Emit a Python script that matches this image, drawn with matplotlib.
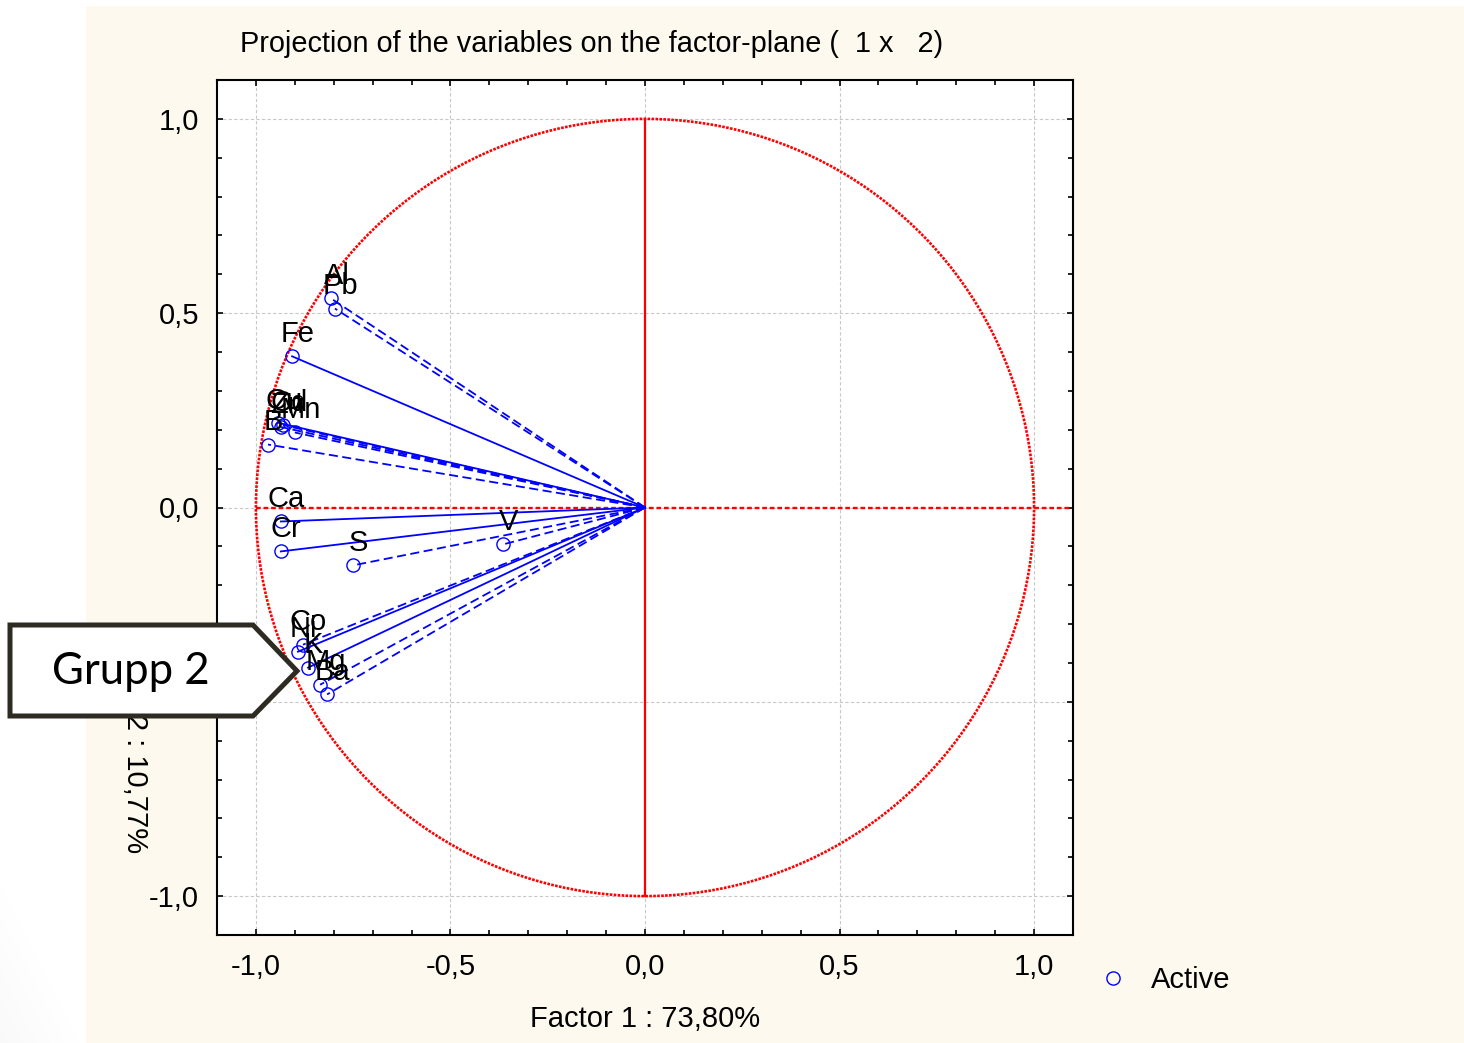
import numpy as np
import matplotlib
matplotlib.use("Agg")
import matplotlib.pyplot as plt
from matplotlib.patches import Polygon, Rectangle
from matplotlib.ticker import MultipleLocator, FuncFormatter

plt.rcParams['font.family'] = ['Liberation Sans', 'DejaVu Sans']

# factor loadings of the variables on factors 1 and 2
names = ["Al", "Pb", "Fe", "Cu", "Zn", "Cd", "Mn", "B", "Ca", "Cr", "S", "V",
         "Ni", "Co", "K", "Mg", "Ba"]
factor1 = [-0.807, -0.797, -0.907, -0.943, -0.935, -0.930, -0.900, -0.969, -0.936, -0.936,
           -0.751, -0.365, -0.892, -0.879, -0.866, -0.835, -0.817]
factor2 = [0.538, 0.512, 0.389, 0.218, 0.207, 0.212, 0.193, 0.162, -0.036, -0.113,
           -0.149, -0.095, -0.371, -0.353, -0.412, -0.456, -0.481]
dashed = [True, True, False, False, True, True, True, True, False, False,
          True, True, False, True, False, True, True]

W, H = 1464, 1043
FS = 21
fig = plt.figure(figsize=(W / 100, H / 100), dpi=100, facecolor="white")

# cream page behind the chart
fig.patches.append(Rectangle((86 / W, 0), 1 - 86 / W, 1 - 6 / H, transform=fig.transFigure,
                             facecolor="#fdf9ee", edgecolor="none", zorder=-10))

# faint grey shading in the lower left corner of the page
shade = fig.add_axes([0, 0, 86 / W, 170 / H], zorder=-9)
gx, gy = np.meshgrid(np.linspace(0, 1, 60), np.linspace(0, 1, 100))
shade.imshow(np.clip(gx + gy, 0, 1), cmap="Greys_r", vmin=-20, vmax=1, origin="lower",
             aspect="auto", extent=(0, 1, 0, 1))
shade.set_axis_off()

ax = fig.add_axes([217 / W, 108 / H, 856 / W, 855 / H])
ax.set_facecolor("white")
ax.set_xlim(-1.1, 1.1)
ax.set_ylim(-1.1, 1.1)

# unit circle and axes through the origin
t = np.linspace(0, 2 * np.pi, 400)
ax.plot(np.cos(t), np.sin(t), color="red", lw=1.9, ls=(0, (1, 0.5)), zorder=2)
ax.plot([-1, 1.1], [0, 0], color="red", lw=1.7, ls=(0, (2, 1.2)), zorder=2)
ax.plot([0, 0], [-1, 1], color="red", lw=1.6, zorder=2)

for x, y, d in zip(factor1, factor2, dashed):
    ax.plot([0, x], [0, y], color="blue", lw=1.3, ls=(0, (5, 2.5)) if d else "-", zorder=3)

pts, = ax.plot(factor1, factor2, "o", mfc="none", mec="blue", mew=1.0, ms=9.5,
               label="Active", zorder=4)

for n, x, y in zip(names, factor1, factor2):
    ax.annotate(n, (x, y), xytext=(4, 16), textcoords="offset points",
                ha="center", va="center", fontsize=FS, zorder=5)

fmt = FuncFormatter(lambda v, p: f"{v:.1f}".replace(".", ","))
for a in (ax.xaxis, ax.yaxis):
    a.set_major_locator(MultipleLocator(0.5))
    a.set_minor_locator(MultipleLocator(0.1))
    a.set_major_formatter(fmt)
ax.tick_params(which="both", direction="in", top=True, right=True, width=1.2, labelsize=FS)
ax.tick_params(which="major", length=4, pad=13)
ax.tick_params(which="minor", length=3.5)
ax.grid(True, which="major", color="#c8c8c8", ls=(0, (3, 2)), lw=0.8, zorder=1)
for s in ax.spines.values():
    s.set_linewidth(1.5)

fig.text(592 / W, 1 - 44 / H, "Projection of the variables on the factor-plane (  1 x   2)",
         ha="center", va="center", fontsize=20.8)
fig.text(645 / W, 1 - 1019 / H, "Factor 1 : 73,80%", ha="center", va="center", fontsize=FS)
fig.text(135 / W, 1 - 853 / H, "Factor 2 : 10,77%", rotation=-90, ha="center", va="bottom",
         fontsize=FS)

fig.legend(handles=[pts], loc="center left", bbox_to_anchor=(1098 / W, 1 - 980 / H),
           frameon=False, fontsize=FS, handlelength=1.0, handletextpad=0.8,
           borderpad=0, borderaxespad=0)

# callout marking the second group
callout = [(10, 625), (253, 625), (297, 671), (253, 716), (10, 716)]
fig.patches.append(Polygon([(px / W, 1 - py / H) for px, py in callout], closed=True,
                           transform=fig.transFigure, facecolor="white",
                           edgecolor="#2e2b22", lw=3.6, joinstyle="miter", zorder=10))
fig.text(131 / W, 1 - 672 / H, "Grupp 2", ha="center", va="center", fontsize=31.5,
         family=["Lato", "DejaVu Sans"], zorder=11)

fig.savefig("out.png", dpi=100)
